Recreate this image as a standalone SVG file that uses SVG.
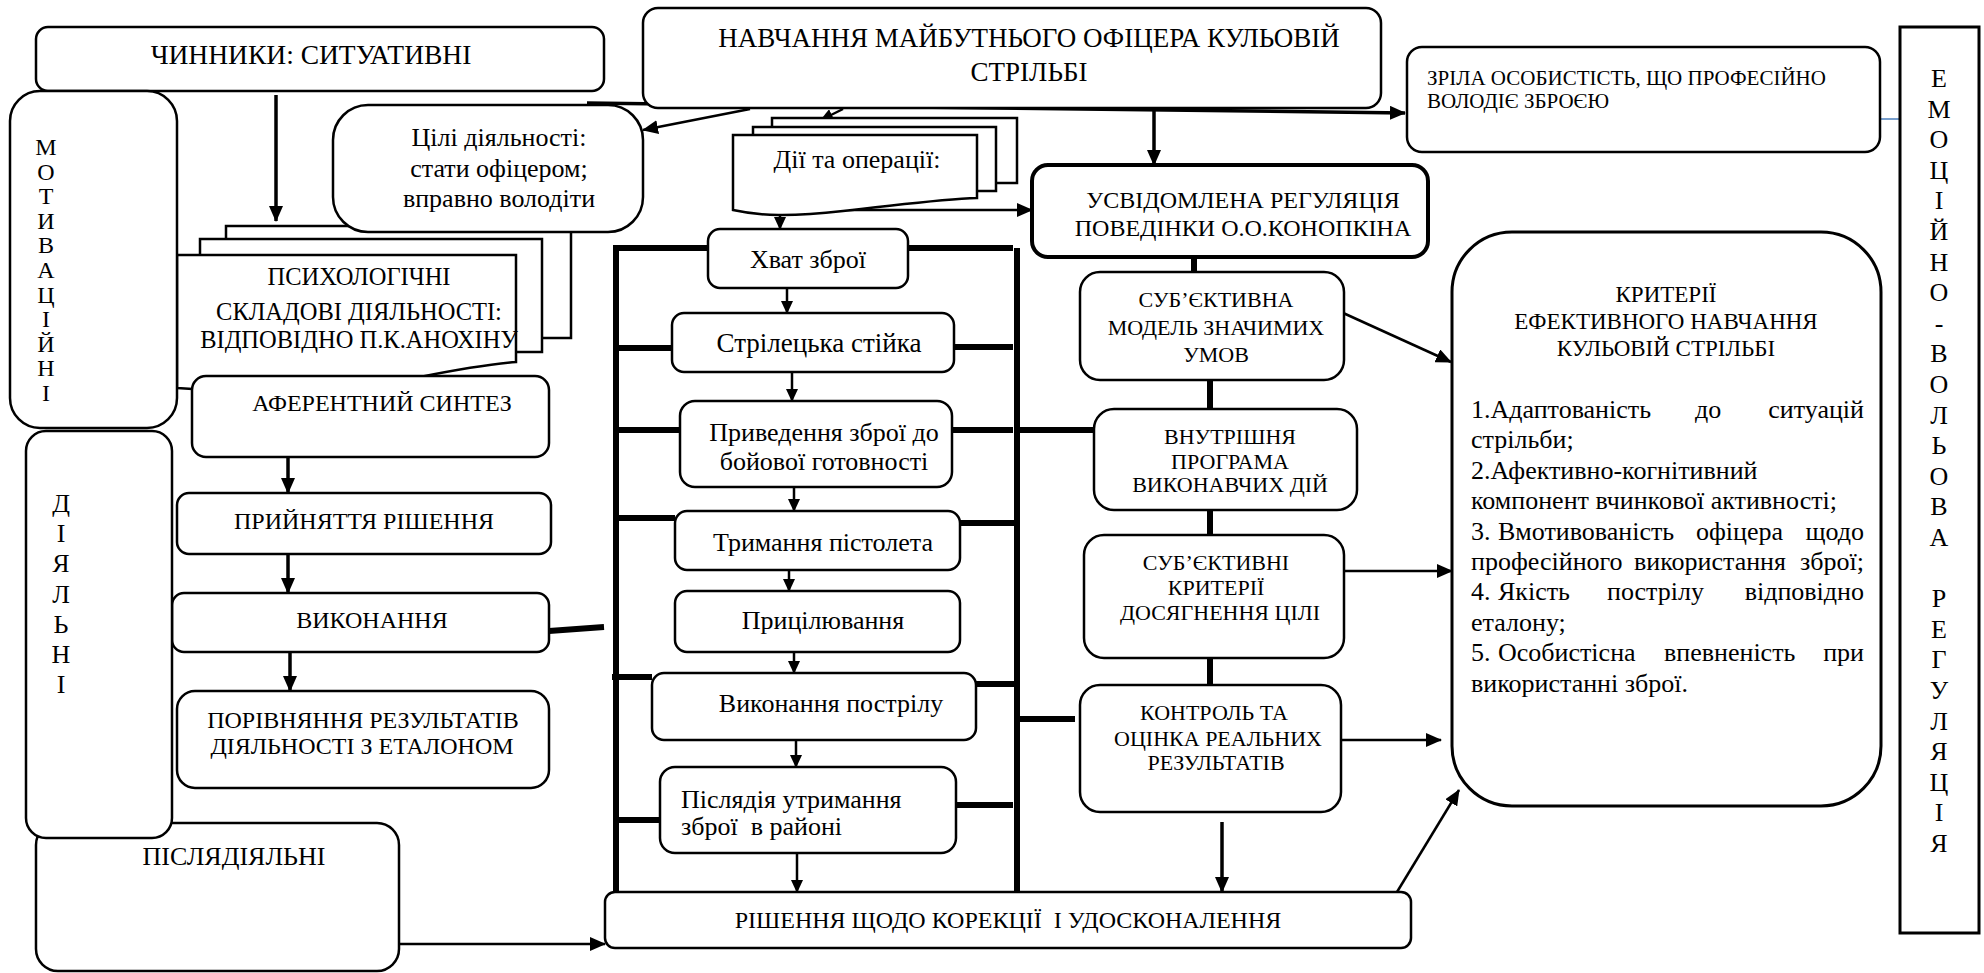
<svg xmlns="http://www.w3.org/2000/svg" width="1984" height="973" viewBox="0 0 1984 973">
<style>
.b{fill:#fff;stroke:#000;stroke-width:2.5}
.bt{fill:#fff;stroke:#000;stroke-width:4}
text{font-family:'Liberation Serif','Times New Roman',serif;fill:#000}
.c{text-anchor:middle}
.e{text-anchor:end}
.p{white-space:pre}
.f27{font-size:27px}
.f26{font-size:26px}
.f24{font-size:24px}
.f23{font-size:23px}
.f22{font-size:22px}
.f21{font-size:21px}
.ln{stroke:#000;fill:none;stroke-width:2.5}
.lm{stroke:#000;fill:none;stroke-width:3.5}
.lk{stroke:#000;fill:none;stroke-width:6}
</style>
<defs>
<marker id="ah" markerWidth="16" markerHeight="14" refX="15" refY="7" orient="auto" markerUnits="userSpaceOnUse"><path d="M0,0 L16,7 L0,14 z" fill="#000"/></marker>
<marker id="as" markerWidth="13" markerHeight="12" refX="12" refY="6" orient="auto" markerUnits="userSpaceOnUse"><path d="M0,0 L13,6 L0,12 z" fill="#000"/></marker>
</defs>
<rect width="1984" height="973" fill="#fff"/>

<g id="connectors">
<line class="ln" x1="750" y1="109" x2="643" y2="130" marker-end="url(#ah)"/>
<line class="ln" x1="843" y1="109" x2="821" y2="120" marker-end="url(#as)"/>
<line class="ln" x1="843" y1="210" x2="1032" y2="210" marker-end="url(#ah)"/>
<line class="ln" x1="780" y1="210" x2="780" y2="229" marker-end="url(#as)"/>
<line class="ln" x1="787" y1="288" x2="787" y2="313" marker-end="url(#as)"/>
<line class="ln" x1="792" y1="372" x2="792" y2="401" marker-end="url(#as)"/>
<line class="ln" x1="794" y1="487" x2="794" y2="511" marker-end="url(#as)"/>
<line class="ln" x1="789" y1="570" x2="789" y2="591" marker-end="url(#as)"/>
<line class="ln" x1="794" y1="652" x2="794" y2="673" marker-end="url(#as)"/>
<line class="ln" x1="796" y1="740" x2="796" y2="767" marker-end="url(#as)"/>
<line class="ln" x1="797" y1="853" x2="797" y2="892" marker-end="url(#as)"/>
<line class="ln" x1="399" y1="944" x2="605" y2="944" marker-end="url(#ah)"/>
<line class="ln" x1="1341" y1="312" x2="1451" y2="362" marker-end="url(#ah)"/>
<line class="ln" x1="1344" y1="571" x2="1452" y2="571" marker-end="url(#ah)"/>
<line class="ln" x1="1341" y1="740" x2="1441" y2="740" marker-end="url(#ah)"/>
<line class="ln" x1="1397" y1="892" x2="1459" y2="790" marker-end="url(#ah)"/>
<line class="lm" x1="587" y1="103" x2="1405" y2="113" marker-end="url(#ah)"/>
<line class="lm" x1="1154" y1="108" x2="1154" y2="165" marker-end="url(#ah)"/>
<line class="lm" x1="276" y1="95" x2="276" y2="221" marker-end="url(#ah)"/>
<line class="lm" x1="288" y1="457" x2="288" y2="493" marker-end="url(#ah)"/>
<line class="lm" x1="288" y1="554" x2="288" y2="593" marker-end="url(#ah)"/>
<line class="lm" x1="290" y1="652" x2="290" y2="691" marker-end="url(#ah)"/>
<line class="lm" x1="1222" y1="822" x2="1222" y2="892" marker-end="url(#ah)"/>
<line class="lk" x1="549" y1="631" x2="604" y2="627"/>
<path class="lk" d="M616,248 V892 M1017,248 V892 M613,248 H708 M908,248 H1013"/>
<path class="lk" d="M617,348 H672 M616,430 H680 M616,518 H675 M612,677 H652 M616,820 H660"/>
<path class="lk" d="M954,347 H1013 M952,430 H1013 M960,523 H1015 M976,684 H1015 M956,805 H1013"/>
<path class="lk" d="M1020,430 H1094 M1020,719 H1075"/>
<path class="lk" d="M1194,257 V272 M1210,380 V409 M1210,510 V535 M1210,658 V685"/>
<line x1="1881" y1="119" x2="1900" y2="119" stroke="#4a7ebb" stroke-width="1.5"/>
</g>

<g id="n-chynnyky">
<rect class="b" x="36" y="27" width="568" height="64" rx="12"/>
<text class="c" style="font-size:27.5px" x="311" y="64">ЧИННИКИ: СИТУАТИВНІ</text>
</g>

<g id="n-navchannia">
<rect class="b" x="643" y="8" width="738" height="100" rx="15"/>
<text class="c f27" x="1029" y="47">НАВЧАННЯ МАЙБУТНЬОГО ОФІЦЕРА КУЛЬОВІЙ</text>
<text class="c f27" x="1029" y="81">СТРІЛЬБІ</text>
</g>

<g id="n-zrila">
<rect class="b" x="1407" y="47" width="473" height="105" rx="15"/>
<text class="f21" x="1427" y="85">ЗРІЛА ОСОБИСТІСТЬ, ЩО ПРОФЕСІЙНО</text>
<text class="f21" x="1427" y="108">ВОЛОДІЄ ЗБРОЄЮ</text>
</g>

<g id="n-emotsiino">
<rect x="1900" y="27" width="79" height="906" fill="#fff" stroke="#000" stroke-width="3"/>
<text class="c f26">
<tspan x="1939" y="87">Е</tspan><tspan x="1939" y="117.6">М</tspan><tspan x="1939" y="148.2">О</tspan><tspan x="1939" y="178.8">Ц</tspan><tspan x="1939" y="209.4">І</tspan><tspan x="1939" y="240">Й</tspan><tspan x="1939" y="270.6">Н</tspan><tspan x="1939" y="301.2">О</tspan><tspan x="1939" y="331.8">-</tspan><tspan x="1939" y="362.4">В</tspan><tspan x="1939" y="393">О</tspan><tspan x="1939" y="423.6">Л</tspan><tspan x="1939" y="454.2">Ь</tspan><tspan x="1939" y="484.8">О</tspan><tspan x="1939" y="515.4">В</tspan><tspan x="1939" y="546">А</tspan><tspan x="1939" y="607.2">Р</tspan><tspan x="1939" y="637.8">Е</tspan><tspan x="1939" y="668.4">Г</tspan><tspan x="1939" y="699">У</tspan><tspan x="1939" y="729.6">Л</tspan><tspan x="1939" y="760.2">Я</tspan><tspan x="1939" y="790.8">Ц</tspan><tspan x="1939" y="821.4">І</tspan><tspan x="1939" y="852">Я</tspan>
</text>
</g>

<g id="n-psykholohichni">
<path class="b" d="M226,226 H571 V338 H226 Z"/>
<path class="b" d="M200,239 H542 V352 H200 Z"/>
<path class="b" d="M177,255 H516 V362 C480,365 450,371 420,377 C350,391 260,395 177,388 Z"/>
<text class="c" style="font-size:24.5px" x="359" y="285">ПСИХОЛОГІЧНІ</text>
<text class="c" style="font-size:24.5px" x="359" y="320">СКЛАДОВІ ДІЯЛЬНОСТІ:</text>
<text class="c" style="font-size:24.5px" x="359" y="348">ВІДПОВІДНО П.К.АНОХІНУ</text>
</g>

<g id="n-tsili">
<rect class="b" x="333" y="105" width="310" height="127" rx="35"/>
<text class="c f26" x="499" y="146">Цілі діяльності:</text>
<text class="c f26" x="499" y="177">стати офіцером;</text>
<text class="c f26" x="499" y="207">вправно володіти</text>
</g>

<g id="n-motyvatsiini">
<rect class="b" x="10" y="91" width="167" height="337" rx="30"/>
<text class="c f24">
<tspan x="46" y="155">М</tspan><tspan x="46" y="179.6">О</tspan><tspan x="46" y="204.2">Т</tspan><tspan x="46" y="228.8">И</tspan><tspan x="46" y="253.4">В</tspan><tspan x="46" y="278">А</tspan><tspan x="46" y="302.6">Ц</tspan><tspan x="46" y="327.2">І</tspan><tspan x="46" y="351.8">Й</tspan><tspan x="46" y="376.4">Н</tspan><tspan x="46" y="401">І</tspan>
</text>
</g>

<g id="n-aferentnyi">
<rect class="b" x="192" y="376" width="357" height="81" rx="14"/>
<text class="c f24" x="382" y="411">АФЕРЕНТНИЙ СИНТЕЗ</text>
</g>

<g id="n-pryiniattia">
<rect class="b" x="177" y="493" width="374" height="61" rx="12"/>
<text class="c f24" x="364" y="529">ПРИЙНЯТТЯ РІШЕННЯ</text>
</g>

<g id="n-vykonannia">
<rect class="b" x="172" y="593" width="377" height="59" rx="12"/>
<text class="c f24" x="372" y="628">ВИКОНАННЯ</text>
</g>

<g id="n-porivniannia">
<rect class="b" x="177" y="691" width="372" height="97" rx="18"/>
<text class="c f24" x="363" y="728">ПОРІВНЯННЯ РЕЗУЛЬТАТІВ</text>
<text class="c f24" x="362" y="754">ДІЯЛЬНОСТІ З ЕТАЛОНОМ</text>
</g>

<g id="n-pisliadiialni">
<rect class="b" x="36" y="823" width="363" height="148" rx="22"/>
<text class="c f26" x="234" y="865">ПІСЛЯДІЯЛЬНІ</text>
</g>

<g id="n-diialni">
<rect class="b" x="26" y="431" width="146" height="407" rx="20"/>
<text class="c f26">
<tspan x="61" y="512">Д</tspan><tspan x="61" y="542">І</tspan><tspan x="61" y="572">Я</tspan><tspan x="61" y="603">Л</tspan><tspan x="61" y="633">Ь</tspan><tspan x="61" y="663">Н</tspan><tspan x="61" y="693">І</tspan>
</text>
</g>

<g id="n-dii">
<path class="b" d="M772,118 H1017 V183 H772 Z"/>
<path class="b" d="M753,127 H996 V191 H753 Z"/>
<path class="b" d="M733,135 H977 V198 C940,199 900,205 843,211 C790,217 760,216 733,210 Z"/>
<text class="c f26" x="857" y="168">Дії та операції:</text>
</g>

<g id="n-khvat">
<rect class="b" x="708" y="229" width="200" height="59" rx="12"/>
<text class="c f26" x="808" y="268">Хват зброї</text>
</g>

<g id="n-striletska">
<rect class="b" x="672" y="313" width="282" height="59" rx="12"/>
<text class="c f27" x="819" y="352">Стрілецька стійка</text>
</g>

<g id="n-pryvedennia">
<rect class="b" x="680" y="401" width="272" height="86" rx="15"/>
<text class="c f26" x="824" y="441">Приведення зброї до</text>
<text class="c f26" x="824" y="470">бойової готовності</text>
</g>

<g id="n-trymannia">
<rect class="b" x="675" y="511" width="285" height="59" rx="12"/>
<text class="c f26" x="823" y="551">Тримання пістолета</text>
</g>

<g id="n-prytsiliuvannia">
<rect class="b" x="675" y="591" width="285" height="61" rx="12"/>
<text class="c f26" x="823" y="629">Прицілювання</text>
</g>

<g id="n-postril">
<rect class="b" x="652" y="673" width="324" height="67" rx="12"/>
<text class="c f26" x="831" y="712">Виконання пострілу</text>
</g>

<g id="n-pisliadiia">
<rect class="b" x="660" y="767" width="296" height="86" rx="15"/>
<text class="f26" x="681" y="808">Післядія утримання</text>
<text class="f26 p" x="681" y="835">зброї  в районі</text>
</g>

<g id="n-rishennia">
<rect class="b" x="605" y="892" width="806" height="56" rx="10"/>
<text class="c f24 p" x="1008" y="928">РІШЕННЯ ЩОДО КОРЕКЦІЇ  І УДОСКОНАЛЕННЯ</text>
</g>

<g id="n-usvidomlena">
<rect class="bt" x="1032" y="165" width="396" height="92" rx="16"/>
<text class="c f24" x="1243" y="208">УСВІДОМЛЕНА РЕГУЛЯЦІЯ</text>
<text class="c f24" x="1243" y="236">ПОВЕДІНКИ О.О.КОНОПКІНА</text>
</g>

<g id="n-model">
<rect class="b" x="1080" y="272" width="264" height="108" rx="20"/>
<text class="c f22" x="1216" y="307">СУБ’ЄКТИВНА</text>
<text class="c f22" x="1216" y="335">МОДЕЛЬ ЗНАЧИМИХ</text>
<text class="c f22" x="1216" y="362">УМОВ</text>
</g>

<g id="n-prohrama">
<rect class="b" x="1094" y="409" width="263" height="101" rx="20"/>
<text class="c f22" x="1230" y="444">ВНУТРІШНЯ</text>
<text class="c f22" x="1230" y="469">ПРОГРАМА</text>
<text class="c f22" x="1230" y="492">ВИКОНАВЧИХ ДІЙ</text>
</g>

<g id="n-kryterii-tsili">
<rect class="b" x="1084" y="535" width="260" height="123" rx="20"/>
<text class="c f22" x="1216" y="570">СУБ’ЄКТИВНІ</text>
<text class="c f22" x="1216" y="595">КРИТЕРІЇ</text>
<text class="c f22" x="1220" y="620">ДОСЯГНЕННЯ ЦІЛІ</text>
</g>

<g id="n-kontrol">
<rect class="b" x="1080" y="685" width="261" height="127" rx="20"/>
<text class="c f22" x="1214" y="720">КОНТРОЛЬ ТА</text>
<text class="c f22" x="1218" y="746">ОЦІНКА РЕАЛЬНИХ</text>
<text class="c f22" x="1216" y="770">РЕЗУЛЬТАТІВ</text>
</g>

<g id="n-kryterii">
<rect class="b" x="1452" y="232" width="429" height="574" rx="60" style="stroke-width:3"/>
<text class="c f23" x="1666" y="302">КРИТЕРІЇ</text>
<text class="c f23" x="1666" y="329">ЕФЕКТИВНОГО НАВЧАННЯ</text>
<text class="c f23" x="1666" y="356">КУЛЬОВІЙ СТРІЛЬБІ</text>
<text class="f26" x="1471" y="418">1.Адаптованість</text>
<text class="f26" x="1695" y="418">до</text>
<text class="f26 e" x="1864" y="418">ситуацій</text>
<text class="f26" x="1471" y="448.4">стрільби;</text>
<text class="f26" x="1471" y="478.8">2.Афективно-когнітивний</text>
<text class="f26" x="1471" y="509.2">компонент вчинкової активності;</text>
<text class="f26" x="1471" y="539.6">3.</text>
<text class="f26" x="1498" y="539.6">Вмотивованість</text>
<text class="f26" x="1696" y="539.6">офіцера</text>
<text class="f26 e" x="1864" y="539.6">щодо</text>
<text class="f26" x="1471" y="570">професійного</text>
<text class="f26" x="1634" y="570">використання</text>
<text class="f26 e" x="1864" y="570">зброї;</text>
<text class="f26" x="1471" y="600.4">4.</text>
<text class="f26" x="1498" y="600.4">Якість</text>
<text class="f26" x="1607" y="600.4">пострілу</text>
<text class="f26 e" x="1864" y="600.4">відповідно</text>
<text class="f26" x="1471" y="630.8">еталону;</text>
<text class="f26" x="1471" y="661.2">5.</text>
<text class="f26" x="1498" y="661.2">Особистісна</text>
<text class="f26" x="1664" y="661.2">впевненість</text>
<text class="f26 e" x="1864" y="661.2">при</text>
<text class="f26" x="1471" y="691.6">використанні зброї.</text>
</g>
</svg>
